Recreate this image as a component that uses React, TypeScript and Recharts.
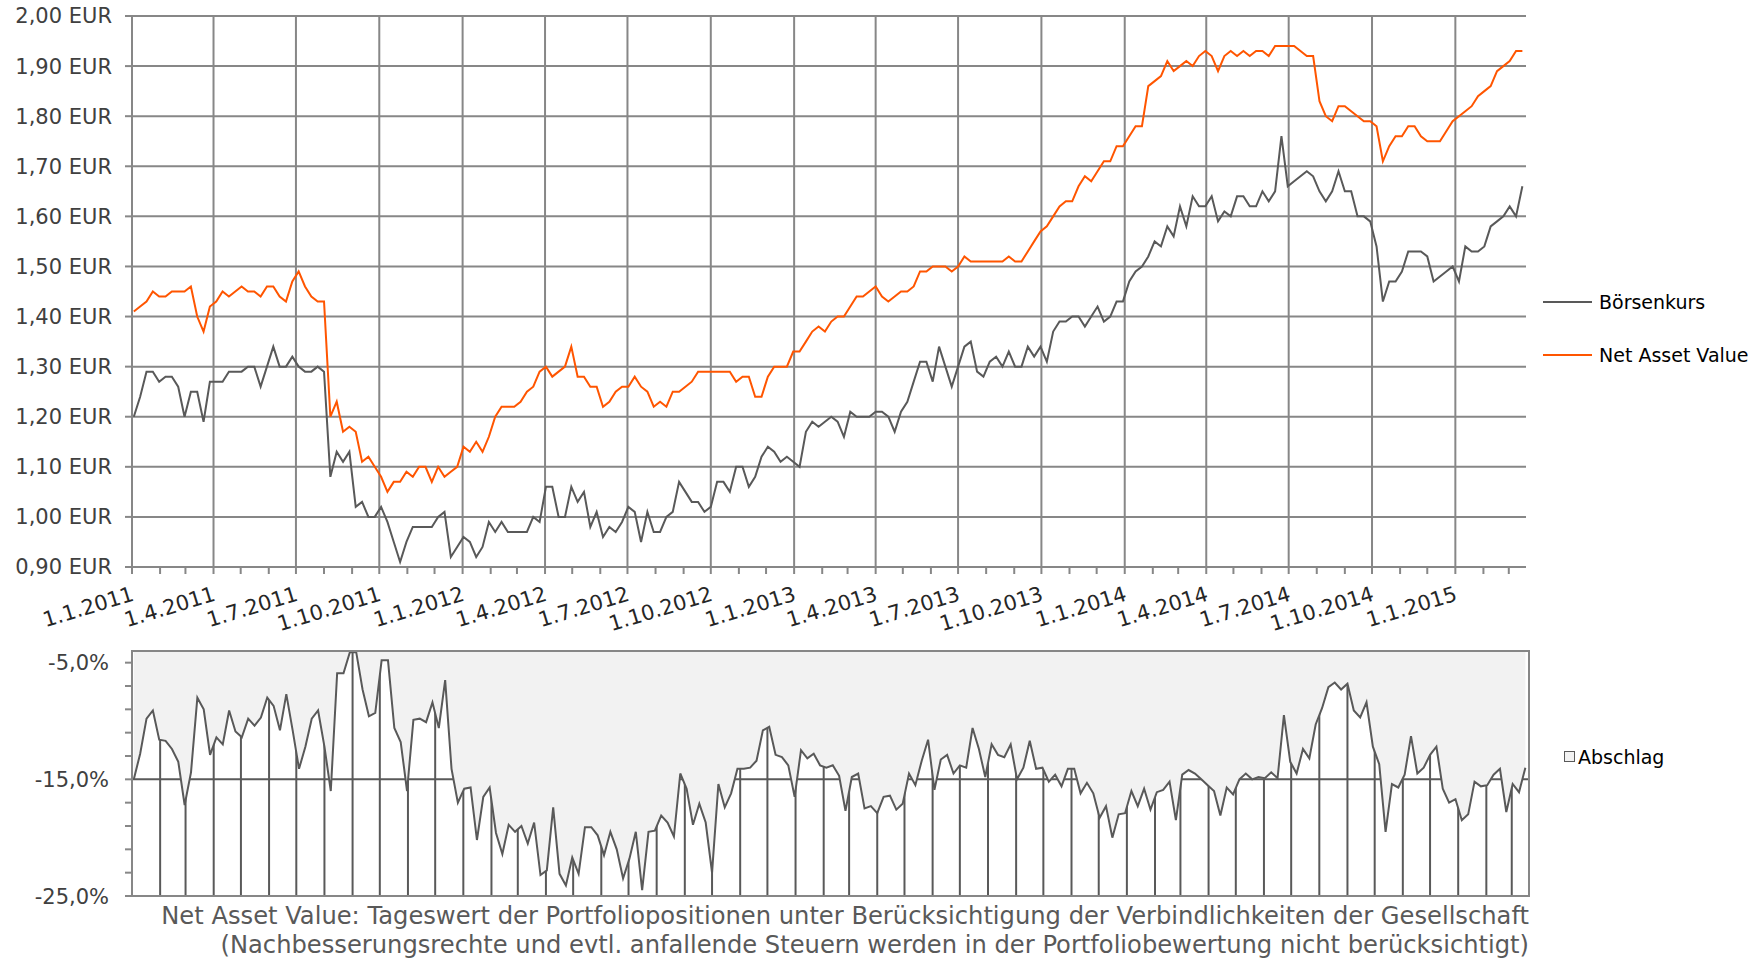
import React from 'react';
import { LineChart, Line, ComposedChart, Area, XAxis, YAxis, CartesianGrid } from 'recharts';

const FONT = '"DejaVu Sans", Verdana, sans-serif';
const GRID = '#878787';
const DARK = '#595959';
const ORANGE = '#ff5500';

// Wochenwerte (jeweils Montag), erster Wert am 3.1.2011
const START_DATE = '2011-01-03';

const kurs = [
  1.20, 1.24, 1.29, 1.29, 1.27, 1.28, 1.28, 1.26, 1.20, 1.25,
  1.25, 1.19, 1.27, 1.27, 1.27, 1.29, 1.29, 1.29, 1.30, 1.30,
  1.26, 1.30, 1.34, 1.30, 1.30, 1.32, 1.30, 1.29, 1.29, 1.30,
  1.29, 1.08, 1.13, 1.11, 1.13, 1.02, 1.03, 1.00, 1.00, 1.02,
  0.99, 0.95, 0.91, 0.95, 0.98, 0.98, 0.98, 0.98, 1.00, 1.01,
  0.92, 0.94, 0.96, 0.95, 0.92, 0.94, 0.99, 0.97, 0.99, 0.97,
  0.97, 0.97, 0.97, 1.00, 0.99, 1.06, 1.06, 1.00, 1.00, 1.06,
  1.03, 1.05, 0.98, 1.01, 0.96, 0.98, 0.97, 0.99, 1.02, 1.01,
  0.95, 1.01, 0.97, 0.97, 1.00, 1.01, 1.07, 1.05, 1.03, 1.03,
  1.01, 1.02, 1.07, 1.07, 1.05, 1.10, 1.10, 1.06, 1.08, 1.12,
  1.14, 1.13, 1.11, 1.12, 1.11, 1.10, 1.17, 1.19, 1.18, 1.19,
  1.20, 1.19, 1.16, 1.21, 1.20, 1.20, 1.20, 1.21, 1.21, 1.20,
  1.17, 1.21, 1.23, 1.27, 1.31, 1.31, 1.27, 1.34, 1.30, 1.26,
  1.30, 1.34, 1.35, 1.29, 1.28, 1.31, 1.32, 1.30, 1.33, 1.30,
  1.30, 1.34, 1.32, 1.34, 1.31, 1.37, 1.39, 1.39, 1.40, 1.40,
  1.38, 1.40, 1.42, 1.39, 1.40, 1.43, 1.43, 1.47, 1.49, 1.50,
  1.52, 1.55, 1.54, 1.58, 1.56, 1.62, 1.58, 1.64, 1.62, 1.62,
  1.64, 1.59, 1.61, 1.60, 1.64, 1.64, 1.62, 1.62, 1.65, 1.63,
  1.65, 1.76, 1.66, 1.67, 1.68, 1.69, 1.68, 1.65, 1.63, 1.65,
  1.69, 1.65, 1.65, 1.60, 1.60, 1.59, 1.54, 1.43, 1.47, 1.47,
  1.49, 1.53, 1.53, 1.53, 1.52, 1.47, 1.48, 1.49, 1.50, 1.47,
  1.54, 1.53, 1.53, 1.54, 1.58, 1.59, 1.60, 1.62, 1.60, 1.66,
];

const nav = [
  1.41, 1.42, 1.43, 1.45, 1.44, 1.44, 1.45, 1.45, 1.45, 1.46,
  1.40, 1.37, 1.42, 1.43, 1.45, 1.44, 1.45, 1.46, 1.45, 1.45,
  1.44, 1.46, 1.46, 1.44, 1.43, 1.47, 1.49, 1.46, 1.44, 1.43,
  1.43, 1.20, 1.23, 1.17, 1.18, 1.17, 1.11, 1.12, 1.10, 1.08,
  1.05, 1.07, 1.07, 1.09, 1.08, 1.10, 1.10, 1.07, 1.10, 1.08,
  1.09, 1.10, 1.14, 1.13, 1.15, 1.13, 1.16, 1.20, 1.22, 1.22,
  1.22, 1.23, 1.25, 1.26, 1.29, 1.30, 1.28, 1.29, 1.30, 1.34,
  1.28, 1.28, 1.26, 1.26, 1.22, 1.23, 1.25, 1.26, 1.26, 1.28,
  1.26, 1.25, 1.22, 1.23, 1.22, 1.25, 1.25, 1.26, 1.27, 1.29,
  1.29, 1.29, 1.29, 1.29, 1.29, 1.27, 1.28, 1.28, 1.24, 1.24,
  1.28, 1.30, 1.30, 1.30, 1.33, 1.33, 1.35, 1.37, 1.38, 1.37,
  1.39, 1.40, 1.40, 1.42, 1.44, 1.44, 1.45, 1.46, 1.44, 1.43,
  1.44, 1.45, 1.45, 1.46, 1.49, 1.49, 1.50, 1.50, 1.50, 1.49,
  1.50, 1.52, 1.51, 1.51, 1.51, 1.51, 1.51, 1.51, 1.52, 1.51,
  1.51, 1.53, 1.55, 1.57, 1.58, 1.60, 1.62, 1.63, 1.63, 1.66,
  1.68, 1.67, 1.69, 1.71, 1.71, 1.74, 1.74, 1.76, 1.78, 1.78,
  1.86, 1.87, 1.88, 1.91, 1.89, 1.90, 1.91, 1.90, 1.92, 1.93,
  1.92, 1.89, 1.92, 1.93, 1.92, 1.93, 1.92, 1.93, 1.93, 1.92,
  1.94, 1.94, 1.94, 1.94, 1.93, 1.92, 1.92, 1.83, 1.80, 1.79,
  1.82, 1.82, 1.81, 1.80, 1.79, 1.79, 1.78, 1.71, 1.74, 1.76,
  1.76, 1.78, 1.78, 1.76, 1.75, 1.75, 1.75, 1.77, 1.79, 1.80,
  1.81, 1.82, 1.84, 1.85, 1.86, 1.89, 1.90, 1.91, 1.93, 1.93,
];

// Abschlag des Börsenkurses zum NAV in %
const abschlag = [
  -15.0, -12.8, -9.8, -9.1, -11.6, -11.7, -12.4, -13.5, -17.2, -14.4,
  -8.0, -9.0, -12.9, -11.4, -12.0, -9.1, -10.9, -11.4, -9.8, -10.4,
  -9.7, -8.0, -8.7, -10.8, -7.7, -10.8, -14.1, -12.2, -9.8, -9.1,
  -12.2, -16.0, -5.9, -5.9, -4.1, -4.1, -7.3, -9.6, -9.3, -4.8,
  -4.8, -10.6, -11.8, -16.0, -9.9, -9.8, -10.1, -8.4, -10.6, -6.5,
  -14.1, -17.0, -15.8, -15.7, -20.2, -16.5, -15.7, -19.6, -21.4, -18.9,
  -19.5, -19.0, -20.5, -18.7, -23.2, -22.8, -17.4, -23.1, -24.1, -21.7,
  -23.1, -19.1, -19.1, -19.8, -21.5, -19.5, -21.0, -23.5, -21.8, -19.5,
  -24.5, -19.5, -19.4, -18.1, -18.7, -19.9, -14.5, -15.8, -18.9, -17.1,
  -18.7, -23.0, -15.4, -17.4, -16.2, -14.1, -14.1, -14.0, -13.4, -10.8,
  -10.5, -12.9, -13.1, -13.8, -16.5, -12.5, -13.2, -12.8, -13.8, -14.0,
  -13.8, -14.7, -17.7, -14.8, -14.5, -17.5, -17.3, -17.9, -16.5, -16.4,
  -17.6, -17.1, -14.5, -15.5, -13.4, -11.6, -15.9, -13.3, -12.9, -14.5,
  -13.8, -14.0, -10.6, -12.4, -14.8, -12.0, -12.9, -13.1, -12.0, -15.0,
  -14.0, -11.7, -14.1, -14.0, -15.2, -14.6, -15.6, -14.1, -14.1, -16.2,
  -15.3, -16.2, -18.3, -17.3, -20.0, -18.0, -17.9, -16.0, -17.3, -15.8,
  -17.6, -16.1, -15.9, -15.2, -18.5, -14.6, -14.2, -14.5, -15.0, -15.5,
  -16.0, -18.1, -15.7, -16.3, -15.0, -14.5, -15.0, -14.8, -14.9, -14.4,
  -14.9, -9.5, -13.5, -14.5, -12.4, -13.2, -10.3, -8.9, -7.1, -6.7,
  -7.3, -6.8, -9.1, -9.7, -8.4, -12.2, -13.7, -19.5, -15.4, -15.7,
  -14.6, -11.3, -14.5, -14.0, -12.9, -12.2, -15.8, -17.0, -16.7, -18.5,
  -18.0, -15.2, -15.6, -15.5, -14.6, -14.1, -17.8, -15.4, -16.1, -14.0,
];

const quarterLabels = [
  '1.1.2011', '1.4.2011', '1.7.2011', '1.10.2011',
  '1.1.2012', '1.4.2012', '1.7.2012', '1.10.2012',
  '1.1.2013', '1.4.2013', '1.7.2013', '1.10.2013',
  '1.1.2014', '1.4.2014', '1.7.2014', '1.10.2014',
  '1.1.2015',
];

const eurTicks = [0.9, 1.0, 1.1, 1.2, 1.3, 1.4, 1.5, 1.6, 1.7, 1.8, 1.9, 2.0];
const pctTicks = [-25, -23, -21, -19, -17, -15, -13, -11, -9, -7, -5];
const pctLabels = [-25, -15, -5];

const DAY = 86400000;
const X_MIN = Date.UTC(2011, 0, 1);
const X_MAX = Date.UTC(2015, 2, 20);

const parseDe = (s: string) => {
  const [d, m, y] = s.split('.').map(Number);
  return Date.UTC(y, m - 1, d);
};

const quarterTicks = quarterLabels.map(parseDe);
const monthTicks: number[] = [];
for (let y = 2011; y <= 2015; y++) {
  for (let m = 0; m < 12; m++) {
    const t = Date.UTC(y, m, 1);
    if (t <= X_MAX) monthTicks.push(t);
  }
}

const t0 = Date.parse(START_DATE);
const priceData = kurs.map((k, i) => ({ t: t0 + i * 7 * DAY, kurs: k, nav: nav[i] }));
const discountData = abschlag.map((a, i) => ({ t: t0 + i * 7 * DAY, abschlag: a }));

const DateTick = (props: any) => {
  const { x, y, payload } = props;
  const idx = quarterTicks.indexOf(payload.value);
  const tx = x + 3;
  const ty = y + 33;
  return (
    <g>
      <line x1={x} x2={x} y1={y} y2={y + 7} stroke={GRID} strokeWidth={2} />
      {idx >= 0 && (
        <text x={tx} y={ty} textAnchor="end" fontSize={21} fontFamily={FONT} fill="#262626"
          transform={`rotate(-17 ${tx} ${ty})`}>
          {quarterLabels[idx]}
        </text>
      )}
    </g>
  );
};

const PctTick = (props: any) => {
  const { x, y, payload } = props;
  const v = payload.value;
  return (
    <g>
      <line x1={x - 7} x2={x} y1={y} y2={y} stroke={GRID} strokeWidth={2} />
      {pctLabels.includes(v) && (
        <text x={x - 23} y={y} dy="0.36em" textAnchor="end" fontSize={21} fontFamily={FONT} fill="#404040">
          {`${v},0%`}
        </text>
      )}
    </g>
  );
};

const legendText: React.CSSProperties = {
  position: 'absolute', fontFamily: FONT, fontSize: 19, color: '#000', lineHeight: '20px', whiteSpace: 'nowrap',
};

export default function App() {
  return (
    <div style={{ position: 'absolute', left: 0, top: 0, width: 1760, height: 961, background: '#fff', fontFamily: FONT }}>
      <LineChart width={1760} height={640} data={priceData} margin={{ top: 16, right: 234, bottom: 0, left: 0 }}>
        <CartesianGrid stroke={GRID} strokeWidth={2} verticalValues={quarterTicks} horizontalValues={eurTicks} />
        <XAxis dataKey="t" type="number" domain={[X_MIN, X_MAX]} ticks={monthTicks} interval={0}
          tick={<DateTick />} tickLine={false} tickSize={0} tickMargin={0} height={73}
          axisLine={{ stroke: GRID, strokeWidth: 2 }} />
        <YAxis domain={[0.9, 2.0]} ticks={eurTicks} interval={0} width={132}
          tickFormatter={(v: number) => `${v.toFixed(2).replace('.', ',')} EUR`}
          tick={{ fontSize: 21, fontFamily: FONT, fill: '#404040' }}
          tickSize={7} tickMargin={13} tickLine={{ stroke: GRID, strokeWidth: 2 }}
          axisLine={{ stroke: GRID, strokeWidth: 2 }} />
        <Line dataKey="kurs" type="linear" stroke={DARK} strokeWidth={2} dot={false} isAnimationActive={false} />
        <Line dataKey="nav" type="linear" stroke={ORANGE} strokeWidth={2} dot={false} isAnimationActive={false} />
      </LineChart>

      <div style={{ position: 'absolute', left: 0, top: 640 }}>
        <ComposedChart width={1760} height={280} data={discountData} margin={{ top: 11, right: 231, bottom: 24, left: 0 }}>
          <CartesianGrid stroke={DARK} strokeWidth={2} verticalValues={monthTicks} horizontalValues={[-15]} />
          <XAxis dataKey="t" type="number" domain={[X_MIN, X_MAX]} ticks={monthTicks} interval={0} hide />
          <YAxis domain={[-25, -4]} allowDataOverflow ticks={pctTicks} interval={0} width={132}
            tick={<PctTick />} tickLine={false} tickSize={0} tickMargin={0}
            axisLine={{ stroke: GRID, strokeWidth: 2 }} />
          <Area dataKey="abschlag" type="linear" baseValue={-4} fill="#f2f2f2" fillOpacity={1}
            stroke={DARK} strokeWidth={2} dot={false} isAnimationActive={false} />
        </ComposedChart>
      </div>
      <div style={{ position: 'absolute', left: 131, top: 650, width: 1399, height: 247, boxSizing: 'border-box',
        borderTop: `2px solid ${GRID}`, borderRight: `2px solid ${GRID}`, borderBottom: `2px solid ${GRID}`, pointerEvents: 'none' }} />

      {/* Legende oben */}
      <div style={{ position: 'absolute', left: 1543, top: 301, width: 49, height: 2, background: DARK }} />
      <div style={{ ...legendText, left: 1599, top: 292 }}>Börsenkurs</div>
      <div style={{ position: 'absolute', left: 1543, top: 354, width: 49, height: 2, background: ORANGE }} />
      <div style={{ ...legendText, left: 1599, top: 345 }}>Net Asset Value</div>

      {/* Legende unten */}
      <div style={{ position: 'absolute', left: 1564, top: 751, width: 11, height: 11, boxSizing: 'border-box',
        border: `1.5px solid ${DARK}`, background: '#f2f2f2' }} />
      <div style={{ ...legendText, left: 1578, top: 747 }}>Abschlag</div>

      <div style={{ position: 'absolute', right: 231, top: 902, textAlign: 'right', fontSize: 24.2, lineHeight: '29px',
        color: DARK, whiteSpace: 'nowrap' }}>
        <div>Net Asset Value: Tageswert der Portfoliopositionen unter Berücksichtigung der Verbindlichkeiten der Gesellschaft</div>
        <div>(Nachbesserungsrechte und evtl. anfallende Steuern werden in der Portfoliobewertung nicht berücksichtigt)</div>
      </div>
    </div>
  );
}
